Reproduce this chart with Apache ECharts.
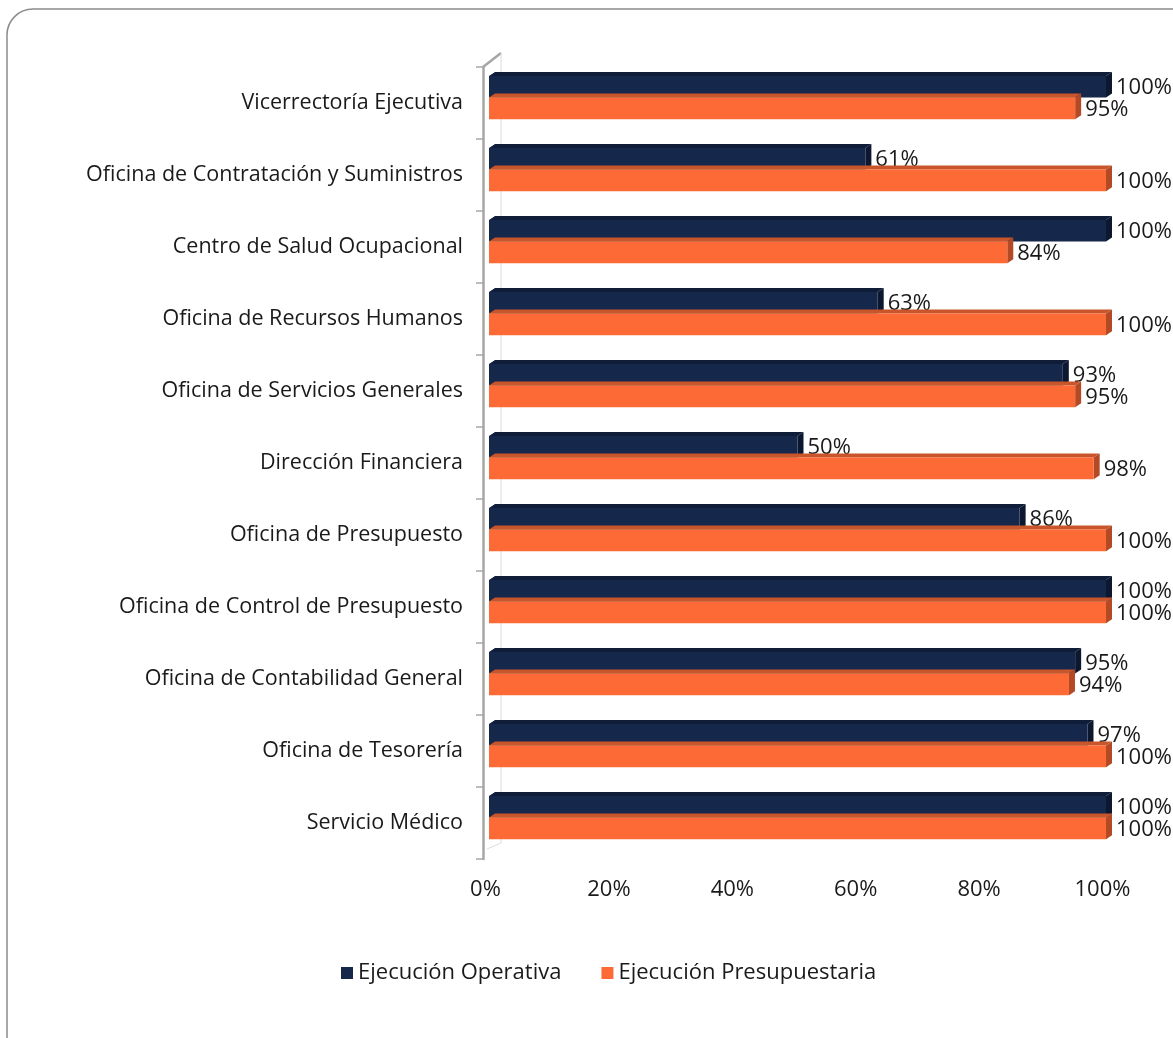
<!DOCTYPE html>
<html>
<head>
<meta charset="utf-8">
<script src="https://cdn.jsdelivr.net/npm/echarts@6/dist/echarts.min.js"></script>
<style>
  html, body { margin: 0; padding: 0; background: #fff; }
  #box { width: 1173px; height: 1038px; }
</style>
</head>
<body>
<div id="box"></div>
<script>
// categorias de arriba hacia abajo
var categorias = [
  'Vicerrectoría Ejecutiva',
  'Oficina de Contratación y Suministros',
  'Centro de Salud Ocupacional',
  'Oficina de Recursos Humanos',
  'Oficina de Servicios Generales',
  'Dirección Financiera',
  'Oficina de Presupuesto',
  'Oficina de Control de Presupuesto',
  'Oficina de Contabilidad General',
  'Oficina de Tesorería',
  'Servicio Médico'
];
var operativa = [100, 61, 100, 63, 93, 50, 86, 100, 95, 97, 100];
var presupuestaria = [95, 100, 84, 100, 95, 98, 100, 100, 94, 100, 100];
var seriesNames = ['Ejecución Operativa', 'Ejecución Presupuestaria'];

var fuente = '"Open Sans", Lato, sans-serif';

var myChart = echarts.init(document.getElementById('box'));

// barra con efecto 3D (frente + cara superior + cara lateral)
function barra3D(slot, front, top, side) {
  return function (params, api) {
    var cat = api.value(0);
    var val = api.value(1);
    var p0 = api.coord([0, cat]);
    var p1 = api.coord([val, cat]);
    var band = api.size([0, 1])[1];
    var h = band * 0.3;
    var y = p0[1] - band * 0.375 + slot * h;
    var dx = 6, dy = -4;
    var x0 = p0[0], x1 = p1[0];
    var children = [
      { type: 'polygon', shape: { points: [[x0, y], [x0 + dx, y + dy], [x1 + dx, y + dy], [x1, y]] }, style: { fill: top } },
      { type: 'polygon', shape: { points: [[x1, y], [x1 + dx, y + dy], [x1 + dx, y + dy + h], [x1, y + h]] }, style: { fill: side } },
      { type: 'rect', shape: { x: x0, y: y, width: x1 - x0, height: h }, style: { fill: front } },
      { type: 'text', x: x1 + dx + 4, y: y + h / 2 + 1,
        style: { text: val + '%', fill: '#1a1a1a', font: '22px ' + fuente, verticalAlign: 'middle', align: 'left' } }
    ];
    return { type: 'group', children: children };
  };
}

function datos(arr) {
  return arr.map(function (v, i) { return [i, v]; });
}

var option = {
  animation: false,
  color: ['#15284b', '#fe6a35'],
  graphic: [
    { type: 'rect', shape: { x: 7, y: 9, width: 1240, height: 1100, r: 26 }, style: { fill: 'none', stroke: '#8c8c8c', lineWidth: 1.5 } },
    { type: 'line', shape: { x1: 483, y1: 67, x2: 501, y2: 53 }, style: { stroke: '#a6a6a6', lineWidth: 2.5 } },
    { type: 'line', shape: { x1: 501, y1: 53, x2: 501, y2: 843 }, style: { stroke: '#dcdcdc', lineWidth: 1 } },
    { type: 'line', shape: { x1: 487, y1: 849, x2: 501, y2: 843 }, style: { stroke: '#dcdcdc', lineWidth: 1 } }
  ],
  legend: {
    data: seriesNames,
    left: 336,
    top: 957,
    icon: 'rect',
    itemWidth: 12,
    itemHeight: 12,
    itemGap: 40,
    textStyle: { fontFamily: fuente, fontSize: 22, color: '#1a1a1a' }
  },
  grid: { left: 489, right: 67, top: 67, bottom: 179, containLabel: false },
  xAxis: {
    type: 'value',
    min: 0,
    max: 100,
    interval: 20,
    axisLine: { show: false },
    axisTick: { show: false },
    splitLine: { show: false },
    axisLabel: {
      formatter: '{value}%',
      margin: 20,
      fontFamily: fuente,
      fontSize: 22,
      color: '#1a1a1a',
      padding: [0, 7, 0, 0]
    }
  },
  yAxis: {
    type: 'category',
    data: categorias,
    inverse: true,
    offset: 6,
    axisLine: { show: true, onZero: false, lineStyle: { color: '#a6a6a6', width: 2.5 } },
    axisTick: { show: true, length: 7, lineStyle: { color: '#a6a6a6', width: 1.5 } },
    axisLabel: { margin: 20, fontFamily: fuente, fontSize: 21.5, color: '#1a1a1a' },
    splitLine: { show: false }
  },
  series: [
    {
      name: seriesNames[0],
      type: 'custom',
      renderItem: barra3D(0, '#15284b', '#0f1d38', '#0c1730'),
      encode: { x: 1, y: 0 },
      itemStyle: { color: '#15284b' },
      data: datos(operativa)
    },
    {
      name: seriesNames[1],
      type: 'custom',
      renderItem: barra3D(1, '#fe6a35', '#c9552b', '#b44a25'),
      encode: { x: 1, y: 0 },
      itemStyle: { color: '#fe6a35' },
      data: datos(presupuestaria)
    }
  ]
};

myChart.setOption(option);
</script>
</body>
</html>
